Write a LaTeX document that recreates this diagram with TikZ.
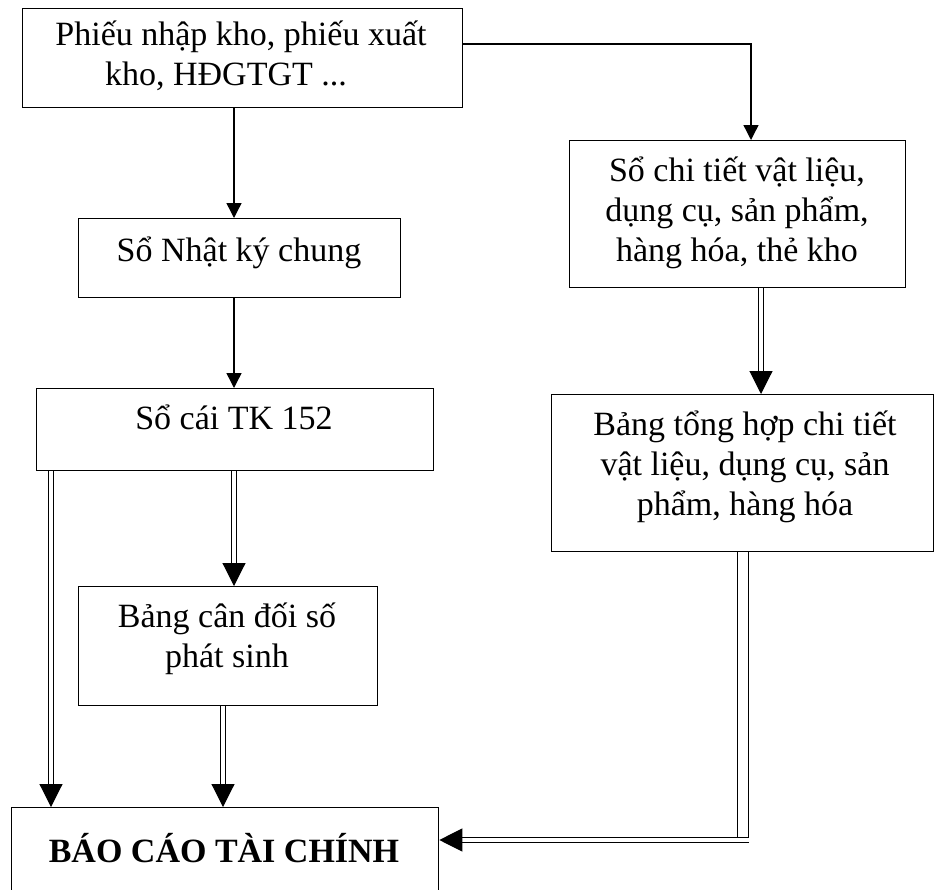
\documentclass[tikz,border=0pt]{standalone}
\usepackage{fontspec}
\setmainfont{Liberation Serif}
\usetikzlibrary{arrows.meta,calc}
\begin{document}
\begin{tikzpicture}[x=1pt,y=-1pt,
  box/.style={draw, line width=1.3pt, rectangle, inner sep=0pt, anchor=north west},
  txt/.style={align=center, inner sep=0pt, font=\fontsize{34}{40}\selectfont},
  oneline/.style={txt, text height=27pt, text depth=12pt},
  twoline/.style={txt, text height=67pt, text depth=12pt},
  threeline/.style={txt, text height=107pt, text depth=12pt},
  sarrow/.style={line width=1.4pt, -{Triangle[length=15pt,width=15pt]}},
  darrow/.style={double, line width=1.1pt, double distance=3.5pt, -{Triangle[length=23pt,width=23pt]}},
  dwide/.style={double, line width=1.1pt, double distance=10pt},
]
\useasboundingbox (0,0) rectangle (934,889);

% boxes
\node[box, minimum width=440pt, minimum height=99pt]  (b1) at (22,8) {};
\node[box, minimum width=322pt, minimum height=79pt]  (b2) at (78,218) {};
\node[box, minimum width=397pt, minimum height=82pt]  (b3) at (36,388) {};
\node[box, minimum width=299pt, minimum height=119pt] (b4) at (78,586) {};
\node[box, minimum width=427pt, minimum height=125pt] (b5) at (11,807) {};
\node[box, minimum width=336pt, minimum height=147pt] (b6) at (569,140) {};
\node[box, minimum width=382pt, minimum height=157pt] (b7) at (551,394) {};

% texts
\node[twoline] (t1) at (241,58) {Phiếu nhập kho, phiếu xuất\\kho, HĐGTGT ...\hspace*{30pt}};
\node[oneline] (t2) at (239,254) {Sổ Nhật ký chung};
\node[oneline] (t3) at (234,422) {Sổ cái TK 152};
\node[twoline] (t4) at (227,640) {Bảng cân đối số\\phát sinh};
\node[oneline, font=\fontsize{34}{40}\selectfont\bfseries] (t5) at (224,854.5) {BÁO CÁO TÀI CHÍNH};
\node[threeline] (t6) at (737,214) {Sổ chi tiết vật liệu,\\dụng cụ, sản phẩm,\\hàng hóa, thẻ kho};
\node[threeline] (t7) at (745,468) {Bảng tổng hợp chi tiết\\vật liệu, dụng cụ, sản\\phẩm, hàng hóa};

% helper coordinates
\coordinate (xa) at (234,0);
\coordinate (xl) at (51,0);
\coordinate (xm) at (223,0);
\coordinate (xr) at (751,0);
\coordinate (xs) at (761,0);
\coordinate (xt) at (743,0);
\coordinate (ya) at (0,44);
\coordinate (k)  at (743,843);
\coordinate (k2) at (749,840);

% connectors
\draw[sarrow] (b1.south -| xa) -- (b2.north -| xa);
\draw[sarrow] (b1.east |- ya) -| (b6.north -| xr);
\draw[sarrow] (b2.south -| xa) -- (b3.north -| xa);
\draw[darrow] (b3.south -| xa) -- (b4.north -| xa);
\draw[darrow] (b3.south -| xl) -- (b5.north -| xl);
\draw[darrow] (b4.south -| xm) -- (b5.north -| xm);
\draw[darrow] (b6.south -| xs) -- (b7.north -| xs);
\draw[dwide] (b7.south -| xt) -- (k);
\draw[darrow] (k2) -- (b5.east |- k2);
\end{tikzpicture}
\end{document}
